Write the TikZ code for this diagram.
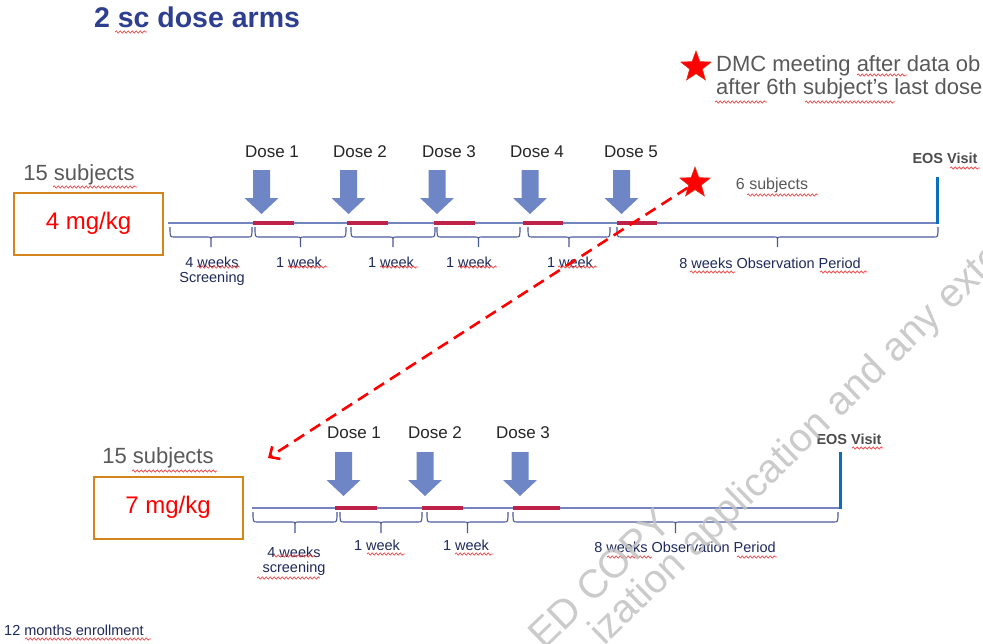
\documentclass[tikz,border=0pt]{standalone}
\usepackage{fontspec}
\setmainfont{Liberation Sans}
\usetikzlibrary{shapes.geometric,arrows.meta,decorations.pathmorphing}

\definecolor{titleblue}{HTML}{2E3F8F}
\definecolor{txtgray}{HTML}{595959}
\definecolor{labelnavy}{HTML}{1F2A5C}
\definecolor{axisblue}{HTML}{7484BE}
\definecolor{bracketblue}{HTML}{4A5A9C}
\definecolor{dosebar}{HTML}{BE2248}
\definecolor{dosearrow}{HTML}{6F86C6}
\definecolor{boxorange}{HTML}{D4861C}
\definecolor{eosblue}{HTML}{0A6FC0}
\definecolor{wmark}{HTML}{C2C2C2}
\definecolor{spellred}{HTML}{F04848}

\newcommand\fsz[1]{\fontsize{#1}{#1}\selectfont}

% down-pointing block arrow: centre x, top y
\newcommand\dosearrowshape[2]{%
  \fill[dosearrow] (#1-8.5,#2) -- (#1+8.5,#2) -- (#1+8.5,#2+28) -- (#1+17,#2+28)
    -- (#1,#2+44) -- (#1-17,#2+28) -- (#1-8.5,#2+28) -- cycle;}

% curly bracket under the time line: x1, x2, top y, middle y, tip y
\newcommand\periodbrace[5]{%
  \pgfmathsetmacro\bxm{(#1+#2)/2}%
  \draw[bracketline] (#1,#3) .. controls (#1,#4) .. (#1+4,#4) -- (\bxm-4,#4)
    .. controls (\bxm,#4) .. (\bxm,#4+4) -- (\bxm,#5)
    (\bxm,#4+4) .. controls (\bxm,#4) .. (\bxm+4,#4) -- (#2-4,#4)
    .. controls (#2,#4) .. (#2,#3);}

% wavy spelling underline: x1, x2, y
\newcommand\spellmark[3]{\draw[spellline] (#1,#3) -- (#2,#3);}

\begin{document}
\begin{tikzpicture}[x=1pt,y=-1pt,
  bracketline/.style={draw=bracketblue,line width=1.1pt},
  axisline/.style={draw=axisblue,line width=1.4pt},
  dosebarline/.style={draw=dosebar,line width=4pt},
  eosbar/.style={draw=eosblue,line width=3pt},
  spellline/.style={draw=spellred,line width=0.7pt,decorate,
    decoration={snake,segment length=4pt,amplitude=1.1pt}},
  periodlabel/.style={text=labelnavy,font=\fsz{14.5},inner sep=0pt,align=center},
  doselabel/.style={text=black!85,font=\fsz{17},inner sep=0pt},
  graytext/.style={text=txtgray,inner sep=0pt},
  eoslabel/.style={text=txtgray!85!black,font=\bfseries\fsz{14.5},inner sep=0pt},
  armbox/.style={draw=boxorange,line width=2pt,minimum width=149pt,
    minimum height=62pt,text=red,font=\fsz{24},inner sep=0pt},
  dmcstar/.style={star,star points=5,star point ratio=2.4,fill=red,
    draw=red!60!brown,line width=0.6pt,minimum size=32pt,inner sep=0pt},
  dmcarrow/.style={draw=red,line width=2.6pt,dash pattern=on 12pt off 7pt,
    -{Straight Barb[length=8pt,width=15pt]}},
  watermark/.style={text=wmark,font=\fsz{40},inner sep=0pt,rotate=44,
    anchor=base west,opacity=0.85}]

\useasboundingbox (0,0) rectangle (983,643);
\fill[white] (0,0) rectangle (983,643);
\clip (0,0) rectangle (983,643);

% title
\node[text=titleblue,font=\bfseries\fsz{28.5},inner sep=0pt] (title) at (197,17) {2 sc dose arms};

% legend
\node[dmcstar] (legendstar) at (696,67) {};
\node[graytext,font=\fsz{22},anchor=west] (legend1) at (716,66) {DMC meeting after data ob};
\node[graytext,font=\fsz{22},anchor=west] (legend2) at (716,89) {after 6th subject’s last dose};

% ---------- arm 1: 4 mg/kg ----------
\node[graytext,font=\fsz{22}] (subj1) at (79,175) {15 subjects};
\node[armbox] (box1) at (88.5,223.5) {4 mg/kg};

\draw[axisline] (168,223) -- (938,223);
\draw[eosbar] (937,177) -- (937,224);
\node[eoslabel] (eos1) at (945,158) {EOS Visit};

\dosearrowshape{261.5}{170}
\dosearrowshape{348.5}{170}
\dosearrowshape{437}{170}
\dosearrowshape{530}{170}
\dosearrowshape{621.5}{170}

\node[doselabel] (a1d1) at (272,152) {Dose 1};
\node[doselabel] (a1d2) at (360,152) {Dose 2};
\node[doselabel] (a1d3) at (449,152) {Dose 3};
\node[doselabel] (a1d4) at (537,152) {Dose 4};
\node[doselabel] (a1d5) at (631,152) {Dose 5};

\draw[dosebarline] (253,223) -- (294,223);
\draw[dosebarline] (347,223) -- (388,223);
\draw[dosebarline] (434,223) -- (475,223);
\draw[dosebarline] (523,223) -- (563,223);
\draw[dosebarline] (617,223) -- (657,223);

\periodbrace{170}{252}{227}{237}{247}
\periodbrace{255}{346}{227}{237}{247}
\periodbrace{351}{435}{227}{237}{247}
\periodbrace{437}{520}{227}{237}{247}
\periodbrace{528}{610}{227}{237}{247}
\periodbrace{617}{938}{227}{237}{247}

\node[periodlabel] (a1scr) at (212,271) {\fontsize{14.5}{18}\selectfont 4 weeks\\Screening};
\node[periodlabel] (a1w1) at (299,262) {1 week};
\node[periodlabel] (a1w2) at (391,262) {1 week};
\node[periodlabel] (a1w3) at (469,262) {1 week};
\node[periodlabel] (a1w4) at (570,262) {1 week};
\node[periodlabel] (a1obs) at (770,263) {8 weeks Observation Period};

\node[dmcstar] (armstar) at (695,183) {};
\node[graytext,font=\fsz{16}] (six) at (772,185) {6 subjects};

% ---------- arm 2: 7 mg/kg ----------
\node[graytext,font=\fsz{22}] (subj2) at (158,458) {15 subjects};
\node[armbox] (box2) at (168,507.5) {7 mg/kg};

\draw[axisline] (252,508) -- (840,508);
\draw[eosbar] (840,452) -- (840,509);
\node[eoslabel] (eos2) at (849,439) {EOS Visit};

\dosearrowshape{343.5}{452}
\dosearrowshape{425}{452}
\dosearrowshape{520}{452}

\node[doselabel] (a2d1) at (354,433) {Dose 1};
\node[doselabel] (a2d2) at (435,433) {Dose 2};
\node[doselabel] (a2d3) at (523,433) {Dose 3};

\draw[dosebarline] (335,508) -- (377,508);
\draw[dosebarline] (422,508) -- (463,508);
\draw[dosebarline] (513,508) -- (560,508);

\periodbrace{253}{337}{512}{522}{533}
\periodbrace{340}{422}{512}{522}{533}
\periodbrace{427}{508}{512}{522}{533}
\periodbrace{513}{838}{512}{522}{533}

\node[periodlabel] (a2scr) at (294,561) {\fontsize{14.5}{18}\selectfont 4 weeks\\screening};
\node[periodlabel] (a2w1) at (377,545) {1 week};
\node[periodlabel] (a2w2) at (466,545) {1 week};
\node[periodlabel] (a2obs) at (685,547) {8 weeks Observation Period};

% DMC decision carried over to the second arm
\coordinate (arm2entry) at (268,458);
\draw[dmcarrow] (armstar) -- (arm2entry);

\node[periodlabel,anchor=west] (enrol) at (4,630) {12 months enrollment};

% spelling underlines
\spellmark{115}{147}{32}
\spellmark{857}{907}{75}
\spellmark{715}{767}{102}
\spellmark{805}{895}{102}
\spellmark{53}{137}{187}
\spellmark{197}{240}{267}
\spellmark{288}{327}{267}
\spellmark{380}{418}{267}
\spellmark{458}{497}{267}
\spellmark{558}{597}{267}
\spellmark{690}{735}{272}
\spellmark{820}{867}{272}
\spellmark{747}{818}{195}
\spellmark{950}{980}{168}
\spellmark{132}{217}{471}
\spellmark{273}{315}{556}
\spellmark{257}{320}{578}
\spellmark{367}{405}{554}
\spellmark{455}{493}{554}
\spellmark{607}{652}{557}
\spellmark{737}{777}{557}
\spellmark{852}{883}{448}
\spellmark{25}{151}{639}

% watermark
\node[watermark] (wm1) at (544,651) {ED COPY};
\node[watermark] (wm2) at (604,647) {ization application and any exte};
\end{tikzpicture}
\end{document}
